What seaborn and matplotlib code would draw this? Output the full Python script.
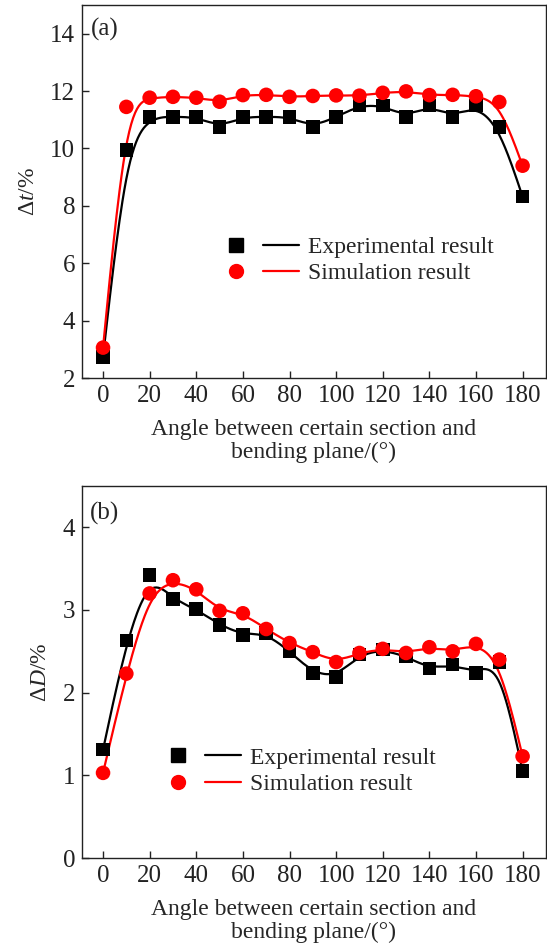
import numpy as np
import pandas as pd
import matplotlib
matplotlib.use("Agg")
import matplotlib.pyplot as plt
import seaborn as sns
from matplotlib.lines import Line2D
from matplotlib.legend_handler import HandlerTuple

angles = [0, 10, 20, 30, 40, 50, 60, 70, 80, 90, 100, 110, 120, 130, 140, 150, 160, 170, 180]

dt_exp = [2.74, 9.95, 11.1, 11.1, 11.1, 10.75, 11.1, 11.1, 11.1, 10.75, 11.1, 11.5, 11.5,
          11.1, 11.5, 11.1, 11.5, 10.75, 8.32]
dt_sim = [3.06, 11.45, 11.77, 11.8, 11.77, 11.63, 11.86, 11.87, 11.8, 11.83, 11.85, 11.84,
          11.94, 11.99, 11.86, 11.87, 11.82, 11.62, 9.4]

dd_exp = [1.31, 2.63, 3.42, 3.13, 3.01, 2.82, 2.70, 2.72, 2.50, 2.24, 2.19, 2.46, 2.52,
          2.44, 2.29, 2.34, 2.24, 2.37, 1.05]
dd_sim = [1.03, 2.23, 3.20, 3.36, 3.25, 2.99, 2.96, 2.77, 2.60, 2.49, 2.37, 2.48, 2.53,
          2.48, 2.55, 2.50, 2.59, 2.40, 1.23]

x_ticks = [0, 20, 40, 60, 80, 100, 120, 140, 160, 180]
a_yticks = [2, 4, 6, 8, 10, 12, 14]
b_yticks = [0, 1, 2, 3, 4]
xlabel = "Angle between certain section and\nbending plane/(°)"
legend_labels = ["Experimental result", "Simulation result"]


def bspline(x, y, n=25):
    P = np.column_stack([np.asarray(x, float), np.asarray(y, float)])
    P = np.vstack([2 * P[0] - P[1], P, 2 * P[-1] - P[-2]])
    t = np.linspace(0, 1, n)
    b0 = (1 - t) ** 3 / 6
    b1 = (3 * t ** 3 - 6 * t ** 2 + 4) / 6
    b2 = (-3 * t ** 3 + 3 * t ** 2 + 3 * t + 1) / 6
    b3 = t ** 3 / 6
    out = []
    for i in range(len(P) - 3):
        seg = (np.outer(b0, P[i]) + np.outer(b1, P[i + 1]) +
               np.outer(b2, P[i + 2]) + np.outer(b3, P[i + 3]))
        out.append(seg if i == 0 else seg[1:])
    out = np.vstack(out)
    return out[:, 0], out[:, 1]


sns.set_style("ticks")
plt.rcParams['font.family'] = ['Liberation Serif', 'DejaVu Serif']
plt.rcParams['mathtext.fontset'] = 'custom'
plt.rcParams['mathtext.rm'] = 'Liberation Serif'
plt.rcParams['mathtext.it'] = 'Liberation Serif:italic'

fig = plt.figure(figsize=(5.47, 9.46), dpi=100)
ax1 = fig.add_axes([0.150, 0.6004, 0.848, 0.3943])
ax2 = fig.add_axes([0.150, 0.0930, 0.848, 0.3933])

TFS = 18
LFS = 17


def draw(ax, exp, sim, ylim, yticks, ylabel, tag, tag_pos, leg_anchor):
    xs, ys = bspline(angles, exp)
    xr, yr = bspline(angles, sim)
    sns.lineplot(x=xs, y=ys, ax=ax, color='black', lw=1.6, sort=False, zorder=2)
    sns.lineplot(x=xr, y=yr, ax=ax, color='red', lw=1.6, sort=False, zorder=2)
    sns.scatterplot(x=angles, y=exp, ax=ax, marker='s', s=95, color='black',
                    edgecolor='none', zorder=3)
    sns.scatterplot(x=angles, y=sim, ax=ax, marker='o', s=110, color='red',
                    edgecolor='none', zorder=3)
    ax.set_xlim(-9, 190)
    ax.set_ylim(*ylim)
    ax.set_xticks(x_ticks)
    ax.set_yticks(yticks)
    ax.tick_params(direction='in', length=5, width=1, labelsize=TFS, pad=5,
                   top=False, right=False, colors='#222222')
    for sp in ax.spines.values():
        sp.set_linewidth(1.0)
        sp.set_color('#222222')
    ax.set_xlabel(xlabel, fontsize=LFS, linespacing=1.1, labelpad=9)
    ax.set_ylabel(ylabel, fontsize=LFS, labelpad=8)
    ax.text(tag_pos[0], tag_pos[1], tag, transform=ax.transAxes, fontsize=TFS,
            va='center', ha='left')
    sq = Line2D([], [], marker='s', color='black', ls='none', markersize=9.5)
    ln = Line2D([], [], color='black', lw=1.6)
    ci = Line2D([], [], marker='o', color='red', ls='none', markersize=10)
    ln2 = Line2D([], [], color='red', lw=1.6)
    ax.legend([(sq, ln), (ci, ln2)], legend_labels,
              handler_map={tuple: HandlerTuple(ndivide=None, pad=0.35)},
              loc='center left', bbox_to_anchor=leg_anchor, frameon=False,
              fontsize=LFS, handlelength=3.4, handletextpad=0.4,
              labelspacing=0.2, borderpad=0, borderaxespad=0)


draw(ax1, dt_exp, dt_sim, (2, 15), a_yticks, r"Δ$\mathit{t}$/%", "(a)",
     (0.020, 0.935), (0.294, 0.316))
draw(ax2, dd_exp, dd_sim, (0, 4.5), b_yticks, r"Δ$\mathit{D}$/%", "(b)",
     (0.016, 0.925), (0.169, 0.234))

fig.savefig("out.png", dpi=100, facecolor='white')
